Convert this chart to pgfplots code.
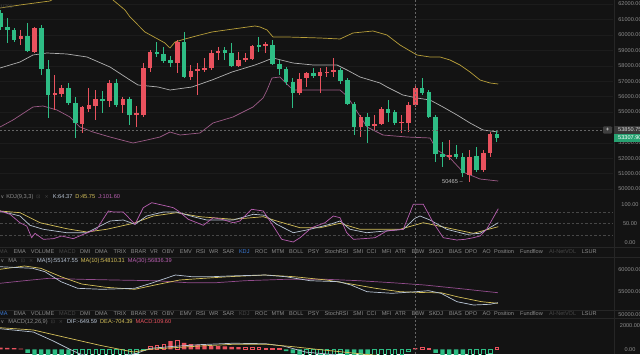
\documentclass[border=0pt]{standalone}
\usepackage{pgfplots}
\pgfplotsset{compat=1.18}
\usepackage{pgfplotstable}
\usepackage{fontspec}
\setmainfont{Liberation Sans}
\newfontfamily\symf{DejaVu Sans}
\definecolor{bg}{HTML}{131313}
\definecolor{gridc}{HTML}{1C1C1C}
\definecolor{sepc}{HTML}{262626}
\definecolor{txt}{HTML}{8C8C8C}
\definecolor{dimc}{HTML}{474747}
\definecolor{bluet}{HTML}{3B7BD8}
\definecolor{upc}{HTML}{E9525E}
\definecolor{dnc}{HTML}{2EBD85}
\definecolor{bollU}{HTML}{B89F3A}
\definecolor{bollM}{HTML}{B0B0B0}
\definecolor{bollL}{HTML}{9B5A86}
\definecolor{kc}{HTML}{B8C4D4}
\definecolor{dc}{HTML}{D6C15A}
\definecolor{jc}{HTML}{B85FB0}
\definecolor{crossc}{HTML}{666666}
\newcommand{\tf}{\fontsize{5.6}{6}\selectfont}
\newcommand{\lf}{\fontsize{5.7}{7}\selectfont}

\pgfplotstableread{
i O H L C
4 59730 60314 59341 59924
6 58887 60508 58822 60443
9 56098 57395 55125 56228
10 56163 56747 55969 56552
13 54218 55385 53634 55320
14 55190 56552 54996 55450
15 55385 56422 54477 55839
17 55709 57071 55320 56876
19 55450 55969 54931 55839
21 54801 55385 54023 54931
22 54801 58173 54672 57849
23 57849 59016 57590 58887
27 58173 59665 57525 59535
29 57266 58044 57071 57655
30 57655 58173 56098 57784
31 57719 58498 57590 57849
32 57849 59016 57719 58822
33 58822 59211 58368 58952
36 57979 58887 57914 58368
37 58368 58822 58238 58498
38 58433 59341 58368 59276
40 59276 59535 58822 59406
45 56228 57525 56098 57136
46 57201 57590 56617 57525
48 57330 57849 56228 57590
49 57525 57914 57266 57590
50 57590 58498 57266 57719
54 54023 54801 53375 54672
56 54088 54801 53828 54218
57 54218 55320 54153 55190
60 54282 54801 53634 54347
61 54282 55644 53699 55450
62 55450 56747 55320 56552
67 52078 53180 51883 52207
70 50910 52531 50465 52078
72 51234 52531 51105 52337
73 52337 53699 52078 53569
}\tabUp

\pgfplotstableread{
i O H L C
1 61416 61611 60314 60508
2 60508 61092 59470 60314
3 60314 60443 59535 59665
5 59924 60767 58887 58952
7 60443 60638 57395 57784
8 57784 58368 54607 56098
11 56552 56876 55450 55579
12 55579 55969 53310 54282
16 55839 56358 54931 55709
18 56876 57136 55320 55450
20 55839 55969 54153 54801
24 58887 59535 58563 58757
25 58757 59211 58173 58303
26 58368 58627 57914 58173
28 59535 60184 57201 57266
34 59016 59211 58368 58822
35 58822 59470 57914 57979
39 59341 59860 58887 59211
41 59341 59665 58044 58109
42 58109 58368 57395 57784
43 57784 57914 56747 56941
44 56941 57201 55255 56228
47 57525 57849 57201 57330
51 57719 57849 56812 57006
52 57071 57201 55450 55515
53 55515 55644 53504 54023
55 54672 54931 52985 54088
58 55190 55774 54347 54931
59 54996 55125 54153 54282
63 56552 57201 56098 56228
64 56293 56422 54607 54672
65 54672 54801 51753 52272
66 52272 53050 51429 52078
68 52272 52856 51948 52078
69 52078 52337 50781 51040
71 52142 52726 51105 51234
74 53569 53764 53050 53310
}\tabDn

\pgfplotstableread{
i v
1 150
2 120
3 100
4 60
26 700
28 550
29 450
30 400
31 350
32 300
33 280
34 250
35 200
36 180
62 110
}\hRF
\pgfplotstableread{
i v
23 300
24 350
25 400
27 800
37 150
38 180
39 150
40 120
41 100
42 60
63 140
64 100
74 150
}\hRH
\pgfplotstableread{
i v
5 -300
6 -500
7 -700
8 -1000
9 -1100
10 -1200
11 -1300
43 -150
44 -350
45 -450
52 -500
53 -700
54 -800
55 -850
65 -300
66 -500
67 -650
68 -750
69 -850
}\hGF
\pgfplotstableread{
i v
12 -1250
13 -1150
14 -1050
15 -950
16 -850
17 -700
18 -600
19 -500
20 -400
21 -300
22 -100
46 -500
47 -480
48 -450
49 -420
50 -400
51 -380
56 -800
57 -700
58 -600
59 -500
60 -400
61 -200
70 -800
71 -700
72 -550
73 -300
}\hGH

\pgfplotsset{
  panel/.style={
    scale only axis, width=613bp, xmin=0.93, xmax=91.08,
    anchor=north west,
    axis line style={draw=none},
    tick style={draw=none},
    xtick=\empty,
    scaled y ticks=false,
    yticklabel pos=right,
    y tick label style={anchor=center, xshift=17bp, font=\tf, color=txt},
    yticklabel={\pgfmathprintnumber[fixed,fixed zerofill,precision=2,1000 sep={},assume math mode=true]{\tick}},
    clip mode=individual,
  },
  ln/.style={line width=0.7bp, mark=none},
  refl/.style={draw=dimc, line width=0.4bp, dash pattern=on 2.5bp off 2bp, mark=none},
}

\begin{document}
\begin{tikzpicture}[x=1bp,y=1bp]
\useasboundingbox (0,0) rectangle (640,354);
\clip (0,0) rectangle (640,354);
\fill[bg] (0,0) rectangle (640,354);

% separators
\draw[sepc, line width=0.4bp] (614,0) -- (614,354);
\foreach \yy in {107.3,97.3,44,36} \draw[sepc, line width=0.4bp] (0,\yy) -- (640,\yy);

% ---------- price panel ----------
\begin{axis}[panel, at={(0bp,354bp)}, height=193bp, ymin=49743, ymax=62259,
  ytick={50000,51000,52000,53000,55000,56000,57000,58000,59000,60000,61000,62000},
  extra y ticks={54000}, extra y tick labels={},
  ymajorgrids, major grid style={draw=gridc, line width=0.3bp},
  extra y tick style={grid=major}]
\addplot[ln, draw=bollU] coordinates {(0.93,61740) (3.87,61935) (8.28,62194) (10.5,62800) (12.7,63100) (15,62900) (17.55,62259) (19.31,61611) (20.05,61157) (22.25,60184) (25.19,59470) (25.93,59146) (26.66,59535) (28.13,59730) (30.34,59989) (32.1,60184) (35.2,60378) (38.43,60573) (39.17,60508) (40.2,60314) (41.08,59860) (43.13,59860) (47.99,59795) (50.93,59730) (52.84,60119) (55.78,60249) (57.84,59989) (59.75,59341) (62.25,58692) (64.17,58563) (65.64,58563) (67.11,58368) (68.58,58044) (70.05,57590) (71.52,57071) (72.99,56877) (74.2,56812)};
\addplot[ln, draw=bollM] coordinates {(0.93,57849) (3.87,58238) (5.78,58692) (7.84,58822) (10.78,58757) (13.72,58563) (17.11,57914) (20.05,57071) (21.22,56747) (24.16,56617) (25.93,56422) (29.16,56617) (32.1,57071) (35.05,57590) (38.43,58044) (39.61,58238) (41.08,58498) (44.02,58173) (46.96,58044) (50.49,58044) (51.96,57720) (53.87,57266) (56.81,56877) (57.84,56617) (60.19,56098) (62.25,55904) (64.17,55774) (66.08,55320) (68.14,54801) (70.05,54283) (71.96,53829) (74.2,53699)};
\addplot[ln, draw=bollL] coordinates {(0.93,54023) (2.84,54477) (5.78,55320) (7.25,55385) (9.31,55126) (11.22,54672) (12.69,54023) (14.6,53699) (17.11,53374) (20.49,52985) (22.55,53180) (24.46,53374) (25.93,53699) (27.4,53504) (30.34,53634) (32.25,54283) (35.2,54672) (38.14,55320) (39.61,55904) (40.2,56422) (40.93,57201) (42.1,57266) (44.02,56422) (46.96,56422) (50.93,56422) (51.96,56033) (54.9,54023) (57.25,53504) (60.78,53374) (64.17,53310) (65.19,52531) (67.11,52012) (69.02,51104) (71.52,50650) (74.2,50520)};
% wicks
\addplot[draw=none, mark=none, error bars/.cd, y dir=both, y explicit, error mark=none,
  error bar style={draw=upc, line width=0.8bp}]
  table[x=i, y=O, y error plus expr={\thisrow{H}-\thisrow{O}}, y error minus expr={\thisrow{O}-\thisrow{L}}] {\tabUp};
\addplot[draw=none, mark=none, error bars/.cd, y dir=both, y explicit, error mark=none,
  error bar style={draw=dnc, line width=0.8bp}]
  table[x=i, y=O, y error plus expr={\thisrow{H}-\thisrow{O}}, y error minus expr={\thisrow{O}-\thisrow{L}}] {\tabDn};
% bodies
\addplot[draw=none, mark=none, error bars/.cd, y dir=plus, y explicit, error mark=none,
  error bar style={draw=upc, line width=4.7bp}]
  table[x=i, y=O, y error plus expr={\thisrow{C}-\thisrow{O}}, y error minus expr={0}] {\tabUp};
\addplot[draw=none, mark=none, error bars/.cd, y dir=plus, y explicit, error mark=none,
  error bar style={draw=dnc, line width=4.7bp}]
  table[x=i, y=C, y error plus expr={\thisrow{O}-\thisrow{C}}, y error minus expr={0}] {\tabDn};
\node[anchor=east, font=\lf, text=lightgray, inner sep=0] at (axis cs:69.0,50465) {50465 \textendash};
\end{axis}

% ---------- KDJ panel ----------
\begin{axis}[panel, at={(0bp,155bp)}, height=48bp, ymin=-12.6, ymax=116.1, ytick={0,50,100}]
\addplot[refl] coordinates {(0.93,80) (91.08,80)};
\addplot[refl] coordinates {(0.93,50) (91.08,50)};
\addplot[refl] coordinates {(0.93,20) (91.08,20)};
\addplot[ln, draw=dc] coordinates {(0.93,83.9) (3.87,79.4) (6.81,52.5) (10.74,36.5) (13.68,27.6) (16.62,34.9) (20.53,50.9) (23.47,70.5) (26.91,79.4) (30.34,68.6) (35.24,61.7) (39.65,68.6) (41.62,57.1) (45.05,39.1) (47.99,39.1) (50.93,50.9) (53.87,34.9) (59.75,34.9) (63.18,52.5) (66.62,39.1) (70.53,24.1) (74.21,41.8)};
\addplot[ln, draw=kc] coordinates {(0.93,83.9) (3.87,70.5) (5.34,45.6) (7.3,34.9) (10.74,25.7) (13.68,25.7) (15.64,43.7) (17.11,57.1) (19.06,59.8) (20.78,48.3) (22.5,70.5) (24.94,81.2) (26.91,81.2) (29.36,68.6) (31.33,59.8) (35.24,59.8) (38.18,75.1) (39.9,72.4) (41.62,48.3) (44.06,25.7) (46.52,34.9) (49.46,48.3) (50.93,57.1) (52.4,34.9) (54.86,25.7) (60.24,34.9) (61.96,64.4) (62.69,70.5) (64.17,59.8) (66.62,34.9) (69.56,21.4) (71.52,24.1) (74.21,52.5)};
\addplot[ln, draw=jc] coordinates {(0.93,83.9) (2.4,75.1) (3.87,52.5) (4.86,43.7) (5.59,12.3) (6.08,24.1) (7.3,8.0) (8.77,9.7) (10.0,16.9) (11.71,9.7) (13.18,21.4) (15.15,34.9) (16.86,83.9) (17.59,81.2) (19.06,81.2) (20.78,48.3) (22.0,92.8) (23.24,106.2) (24.94,99.2) (26.42,92.8) (27.15,83.9) (28.62,61.7) (30.83,45.6) (32.3,66.0) (33.53,61.7) (35.24,52.5) (36.22,57.1) (37.94,88.5) (39.65,83.9) (41.12,43.7) (42.36,8.0) (44.06,0.8) (45.05,12.3) (46.77,39.1) (48.72,52.5) (49.95,70.5) (50.93,66.0) (51.92,25.7) (52.9,8.0) (54.36,9.7) (56.08,12.3) (57.8,30.3) (60.24,34.9) (61.71,101.9) (63.18,101.9) (64.65,52.5) (66.12,12.3) (68.09,6.2) (69.31,8.0) (70.53,12.3) (71.52,16.9) (72.5,34.9) (74.21,90.1)};
\end{axis}

% ---------- MA panel ----------
\begin{axis}[panel, at={(0bp,97bp)}, height=61bp, ymin=49129, ymax=62746, ytick={50000,55000,60000}]
\addplot[ln, draw=jc!80!black] coordinates {(0.93,56875) (4.53,57455) (8.14,57991) (12.93,57768) (17.69,57612) (23.72,57455) (28.55,57009) (32.69,57009) (36.96,57455) (42.94,57768) (48.94,57768) (53.72,57455) (58.58,57009) (63.35,56496) (68.14,55759) (74.16,54777)};
\addplot[ln, draw=dc] coordinates {(0.93,60000) (4.53,60737) (6.93,60223) (9.9,58348) (12.93,56719) (16.52,55982) (20.74,55536) (23.72,56496) (27.34,57612) (30.93,57991) (34.55,58348) (39.9,58728) (44.16,58348) (48.94,57612) (52.55,56719) (56.15,55759) (59.75,55000) (63.35,54800) (65.78,54777) (68.14,53884) (71.75,52768) (74.16,52411)};
\addplot[ln, draw=kc] coordinates {(0.93,60580) (5.74,60223) (7.55,59464) (9.9,57232) (12.34,55759) (15.93,55536) (20.74,55759) (23.14,56875) (26.74,58728) (29.16,58348) (32.1,58348) (34.55,58504) (39.9,58728) (42.94,58348) (46.52,57455) (50.75,57232) (52.55,56496) (54.9,55000) (58.58,54643) (62.1,55000) (63.96,55223) (65.78,54643) (68.14,52768) (70.56,52031) (72.96,52188) (74.16,52545)};
\end{axis}

% ---------- MACD panel ----------
\begin{axis}[panel, at={(0bp,36bp)}, height=36bp, ymin=-403, ymax=2687, ytick={0,2000}]
\addplot[ybar, bar width=4.4bp, bar shift=0pt, fill=upc, draw=none] table[x=i, y=v] {\hRF};
\addplot[ybar, bar width=3.6bp, bar shift=0pt, fill=bg, draw=upc, line width=0.6bp] table[x=i, y=v] {\hRH};
\addplot[ybar, bar width=4.4bp, bar shift=0pt, fill=dnc, draw=none] table[x=i, y=v] {\hGF};
\addplot[ybar, bar width=3.6bp, bar shift=0pt, fill=bg, draw=dnc, line width=0.6bp] table[x=i, y=v] {\hGH};
\addplot[ln, draw=kc] coordinates {(0.93,1768) (5.83,1485) (8.77,712) (11.2,0) (12.7,-403) (15,-700) (18,-650) (21,-350) (23,80) (26.4,250) (30.34,400) (35.2,520) (40,480) (42.6,280) (44.1,50) (46,-250) (50,-450) (56,-1100) (60,-800) (62,-650) (64,-550) (67,-900) (70,-1300) (74.2,-1250)};
\addplot[ln, draw=dc] coordinates {(0.93,1854) (5.83,1657) (10.74,996) (15.64,343) (20.53,-232) (23,0) (26.4,137) (30.34,283) (35.2,429) (40.15,429) (44.06,223) (47.5,0) (49.95,-146) (55,-450) (60,-650) (62,-704) (66,-720) (70,-900) (74.2,-1050)};
\end{axis}

% ---------- texts ----------
\node[anchor=west, inner sep=0, font=\fontsize{5}{5}\selectfont, text=dimc] at (0,347) {1/700};

% legends
\node[anchor=west, inner sep=0, font=\lf, text=txt] at (0.5,157) {{\symf\fontsize{5}{6}\selectfont ∨}\hspace{2bp}KDJ(9,3,3)\hspace{3bp}{\color{dimc}\symf\fontsize{5}{6}\selectfont ⊡\hspace{4bp}×}\hspace{4bp}{\color{kc}K:64.37}\hspace{3bp}{\color{dc}D:45.75}\hspace{3bp}{\color{jc}J:101.60}};
\node[anchor=west, inner sep=0, font=\lf, text=txt] at (0.5,93) {{\symf\fontsize{5}{6}\selectfont ∨}\hspace{4bp}MA\hspace{4bp}{\color{dimc}\symf\fontsize{5}{6}\selectfont ⊡\hspace{4bp}×}\hspace{4bp}{\color{kc}MA(5):55147.55}\hspace{3bp}{\color{dc}MA(10):54810.31}\hspace{3bp}{\color{jc}MA(30):56836.39}};
\node[anchor=west, inner sep=0, font=\lf, text=txt] at (0.5,31.5) {{\symf\fontsize{5}{6}\selectfont ∨}\hspace{4bp}MACD(12,26,9)\hspace{3bp}{\color{dimc}\symf\fontsize{5}{6}\selectfont ⊡\hspace{4bp}×}\hspace{4bp}{\color{kc}DIF:-649.59}\hspace{3bp}{\color{dc}DEA:-704.39}\hspace{3bp}{\color{upc}MACD:109.60}};

% tab rows
\foreach \Y/\ca/\cb in {102.3/dimc/bluet, 40/bluet/dimc}{
  \node[anchor=west, inner sep=0, font=\tf, text=\ca] at (-1,\Y) {MA};
  \node[anchor=west, inner sep=0, font=\tf, text=dimc] at (59,\Y) {MACD};
  \node[anchor=west, inner sep=0, font=\tf, text=\cb] at (238.8,\Y) {KDJ};
  \node[anchor=west, inner sep=0, font=\tf, text=dimc] at (549,\Y) {AI-NetVOL};
  \foreach \w/\xx in {EMA/13.5, VOLUME/30.6, DMI/80, DMA/95, TRIX/113.5, BRAR/130.6, VR/150, OBV/162, EMV/179.6, RSI/196, WR/209, SAR/222.4, ROC/255, MTM/271.4, BOLL/289, PSY/308, StochRSI/324.5, SMI/353, CCI/366.5, MFI/381.6, ATR/395, BBW/411.4, SKDJ/428.6, BIAS/449, DPO/465, AO/482.4, Position/494, Fundflow/520, LSUR/581.6}
    {\node[anchor=west, inner sep=0, font=\tf, text=txt] at (\xx,\Y) {\w};}
}

% crosshair
\draw[crossc, line width=0.4bp, dash pattern=on 2bp off 2bp] (415,0) -- (415,354);
\draw[crossc, line width=0.4bp, dash pattern=on 2bp off 2bp] (0,224) -- (603,224);
% price boxes
\fill[black!75, rounded corners=1bp] (603,220.3) rectangle (612,227.7);
\node[inner sep=0, font=\fontsize{6}{6}\selectfont, text=white] at (607.5,224) {+};
\fill[black!78] (614,220) rectangle (640,228.5);
\node[anchor=west, inner sep=0, font=\tf, text=white!85!black] at (618,224) {53850.75};
\fill[dnc!85!black] (614,212) rectangle (640,220);
\node[anchor=west, inner sep=0, font=\tf, text=white] at (618,216) {53307.90};
\end{tikzpicture}
\end{document}
